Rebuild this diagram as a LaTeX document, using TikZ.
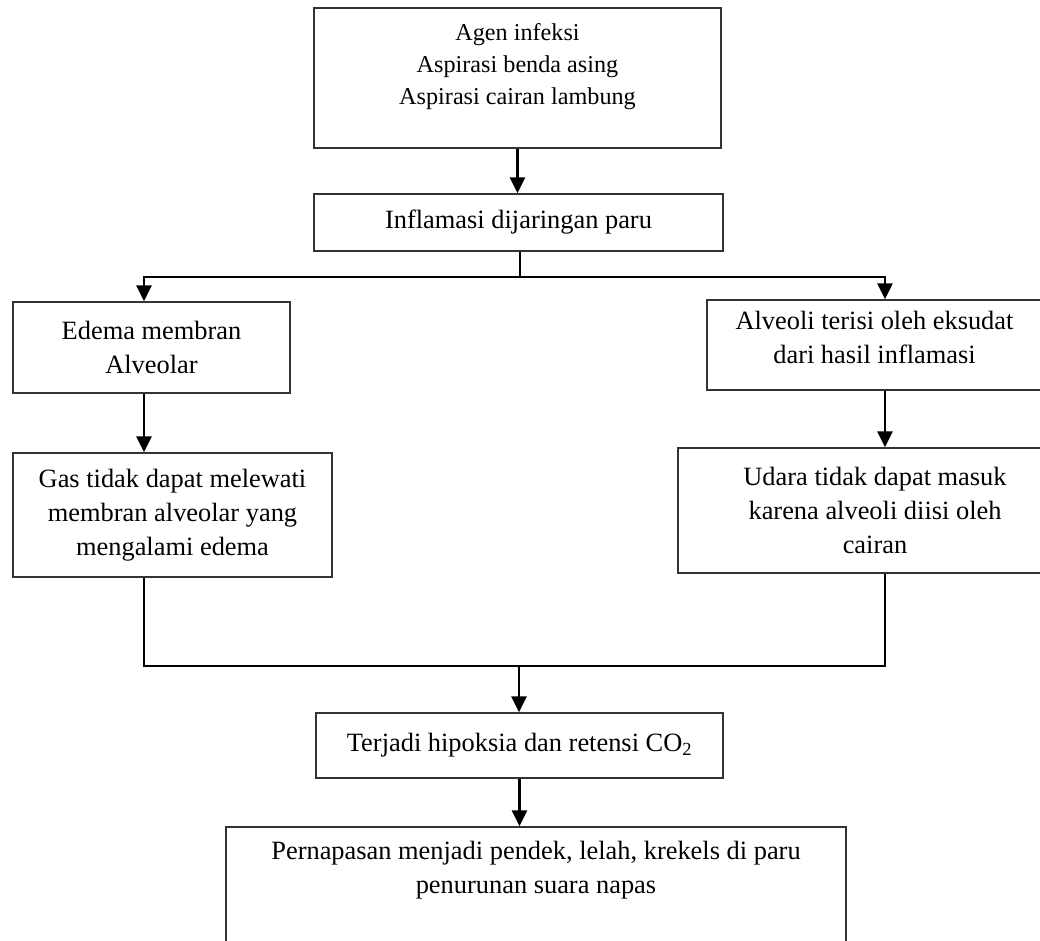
\documentclass[tikz,border=0pt]{standalone}
\usepackage{fontspec}
\setmainfont{Liberation Serif}
\usetikzlibrary{arrows.meta,positioning}

\begin{document}
\begin{tikzpicture}[x=1pt, y=-1pt,
    box/.style={draw=black!80, line width=1.3pt, inner sep=0pt},
    txt/.style={font=\fontsize{26.4}{34}\selectfont, align=center, inner sep=0pt},
    txtsmall/.style={font=\fontsize{24.2}{32}\selectfont, align=center, inner sep=0pt},
    arr/.style={line width=2.6pt, -{Triangle[length=16pt,width=15pt]}},
    link/.style={line width=2.6pt}]

    % Frame (the figure is cut off at the right and bottom)
    \useasboundingbox (0,0) rectangle (1040,940);
    \clip (0,0) rectangle (1040,940);

    % Boxes
    \node[box, minimum width=407pt, minimum height=140pt] (agen) at (517.5,78) {};
    \node[txtsmall, below=16pt of agen.north] (agen-txt)
        {Agen infeksi\\Aspirasi benda asing\\Aspirasi cairan lambung};

    \node[box, txt, minimum width=409pt, minimum height=57pt] (inflamasi) at (518.5,222.5)
        {Inflamasi dijaringan paru};

    \node[box, txt, minimum width=277pt, minimum height=91pt] (edema) at (151.5,347.5)
        {Edema membran\\Alveolar};
    \node[box, txt, minimum width=319pt, minimum height=124pt] (gas) at (172.5,515)
        {Gas tidak dapat melewati\\membran alveolar yang\\mengalami edema};

    \node[box, minimum width=335pt, minimum height=90pt] (alveoli) at (874.5,345) {};
    \node[txt, below=12pt of alveoli.north] (alveoli-txt)
        {Alveoli terisi oleh eksudat\\dari hasil inflamasi};
    \node[box, txt, minimum width=394pt, minimum height=125pt] (udara) at (875,510.5)
        {Udara tidak dapat masuk\\karena alveoli diisi oleh\\cairan};

    \node[box, txt, minimum width=407pt, minimum height=65pt] (terjadi) at (519.5,745.5)
        {Terjadi hipoksia dan retensi CO\textsubscript{2}};

    \node[box, minimum width=620pt, minimum height=173pt] (bawah) at (536,913.5) {};
    \node[txt, below=15pt of bawah.north] (bawah-txt)
        {Pernapasan menjadi pendek, lelah, krekels di paru\\penurunan suara napas};

    % Connectors
    \coordinate (split) at (520,277);
    \coordinate (merge) at (519,666);
    \coordinate (lx) at (144,0);
    \coordinate (rx) at (885,0);

    \draw[arr] (agen.south) -- (agen.south |- inflamasi.north);
    \draw[link] (inflamasi.south -| split) -- (split);
    \draw[arr] (split) -| (lx |- edema.north);
    \draw[arr] (split) -| (rx |- alveoli.north);
    \draw[arr] (lx |- edema.south) -- (lx |- gas.north);
    \draw[arr] (rx |- alveoli.south) -- (rx |- udara.north);
    \draw[link] (lx |- gas.south) |- (merge) -| (rx |- udara.south);
    \draw[arr] (merge) -- (merge |- terjadi.north);
    \draw[arr] (terjadi.south) -- (terjadi.south |- bawah.north);
\end{tikzpicture}
\end{document}
